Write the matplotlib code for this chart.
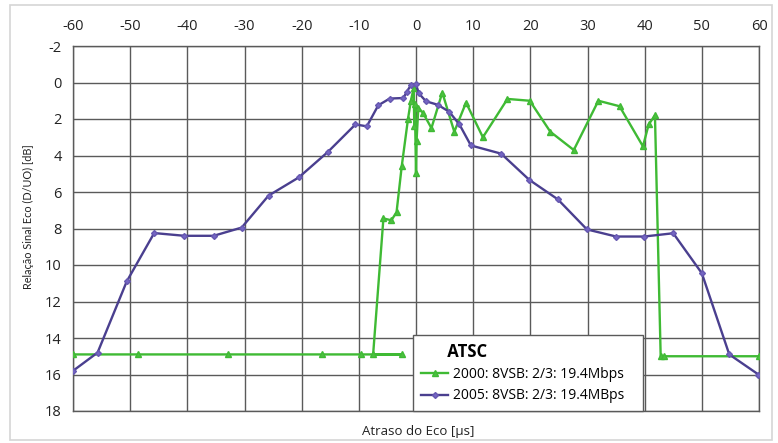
import matplotlib
matplotlib.use("Agg")
import matplotlib.pyplot as plt
from matplotlib.patches import Rectangle

plt.rcParams['font.family'] = ['Open Sans', 'DejaVu Sans']
plt.rcParams['axes.unicode_minus'] = False

# ATSC 2000 (green) - delay [us], D/U [dB]
x2000 = [-60, -48.6, -32.8, -16.4, -9.7, -2.4, -7.5, -5.7, -4.3, -3.4, -2.5, -1.4,
         -0.9, -0.4, -0.3, -0.2, 0.0, 0.1, 0.4, 1.2, 2.7, 4.6, 6.7, 8.75, 11.7,
         16.0, 19.9, 23.5, 27.6, 31.9, 35.6, 39.7, 40.7, 41.8, 42.8, 43.3, 60]
y2000 = [14.9, 14.9, 14.9, 14.9, 14.9, 14.9, 14.9, 7.45, 7.55, 7.1, 4.6, 2.0,
         1.0, 0.3, 2.4, 1.2, 4.95, 3.2, 1.4, 1.65, 2.5, 0.55, 2.7, 1.1, 3.0,
         0.9, 1.0, 2.7, 3.7, 1.0, 1.3, 3.5, 2.3, 1.8, 15.0, 15.0, 15.0]

# ATSC 2005 (purple)
x2005 = [-60, -55.7, -50.6, -45.8, -40.5, -35.4, -30.5, -25.8, -20.5, -15.4,
         -10.6, -8.6, -6.6, -4.6, -2.2, -1.6, -0.9, 0.0, 0.5, 1.75, 3.8, 5.8,
         7.6, 9.6, 14.9, 19.8, 24.8, 29.9, 35.0, 39.9, 45.0, 50.0, 54.8, 59.9]
y2005 = [15.8, 14.8, 10.9, 8.25, 8.4, 8.4, 7.95, 6.2, 5.2, 3.8,
         2.3, 2.4, 1.25, 0.88, 0.85, 0.5, 0.15, 0.1, 0.6, 1.03, 1.22, 1.6,
         2.3, 3.45, 3.9, 5.33, 6.4, 8.05, 8.44, 8.44, 8.26, 10.45, 14.9, 16.0]

xticks = list(range(-60, 61, 10))
yticks = list(range(-2, 19, 2))

label2000 = "2000: 8VSB: 2/3: 19.4Mbps"
label2005 = "2005: 8VSB: 2/3: 19.4MBps"

W, H = 778, 443
fig = plt.figure(figsize=(W / 100, H / 100), dpi=100)
ax = fig.add_axes([73 / W, 1 - 411 / H, (759 - 73) / W, (411 - 46) / H])

green = '#3fba34'
purple = '#4a3f8f'

ax.plot(x2000, y2000, color=green, lw=1.7, marker='^', ms=5,
        mfc='#4cc040', mec=green, label=label2000, zorder=3)
ax.plot(x2005, y2005, color=purple, lw=1.7, marker='D', ms=3,
        mfc='#7566c4', mec='#6658b0', label=label2005, zorder=4)

ax.set_xlim(-60, 60)
ax.set_ylim(18, -2)
ax.set_xticks(xticks)
ax.set_yticks(yticks)
ax.xaxis.tick_top()
ax.tick_params(axis='both', length=0, labelsize=10.5, colors='#222222')
ax.tick_params(axis='x', pad=9)
ax.tick_params(axis='y', pad=8)
ax.grid(True, color='#5a5a5a', lw=1.0)
ax.set_axisbelow(True)
for s in ax.spines.values():
    s.set_color('#5a5a5a')
    s.set_linewidth(1.0)

fig.text(28 / W, 1 - 217 / H, "Relação Sinal Eco (D/UO) [dB]", rotation=90,
         ha='center', va='center', fontsize=7.8, family=['Lato', 'DejaVu Sans'],
         color='#222222')
fig.text(418 / W, 1 - 432 / H, "Atraso do Eco [µs]", ha='center', va='center',
         fontsize=9.5, color='#222222')

leg = ax.legend(loc='lower left',
                bbox_to_anchor=((413 - 73) / 686, 0.0, (643 - 413) / 686, 0.2),
                mode='expand', borderaxespad=0, fontsize=10,
                title="      ATSC",
                title_fontproperties={'weight': 'bold', 'size': 12},
                alignment='left', frameon=True, fancybox=False,
                edgecolor='#5a5a5a', framealpha=1, handlelength=2.0,
                handletextpad=0.3, labelspacing=0.45, borderpad=0.55)
leg.get_frame().set_linewidth(1.0)
leg.set_zorder(10)

fig.add_artist(Rectangle((10 / W, 1 - 440 / H), 762 / W, 435 / H,
                         transform=fig.transFigure, fill=False,
                         edgecolor='#d5d5d5', lw=1.2))

fig.savefig("out.png", dpi=100)
